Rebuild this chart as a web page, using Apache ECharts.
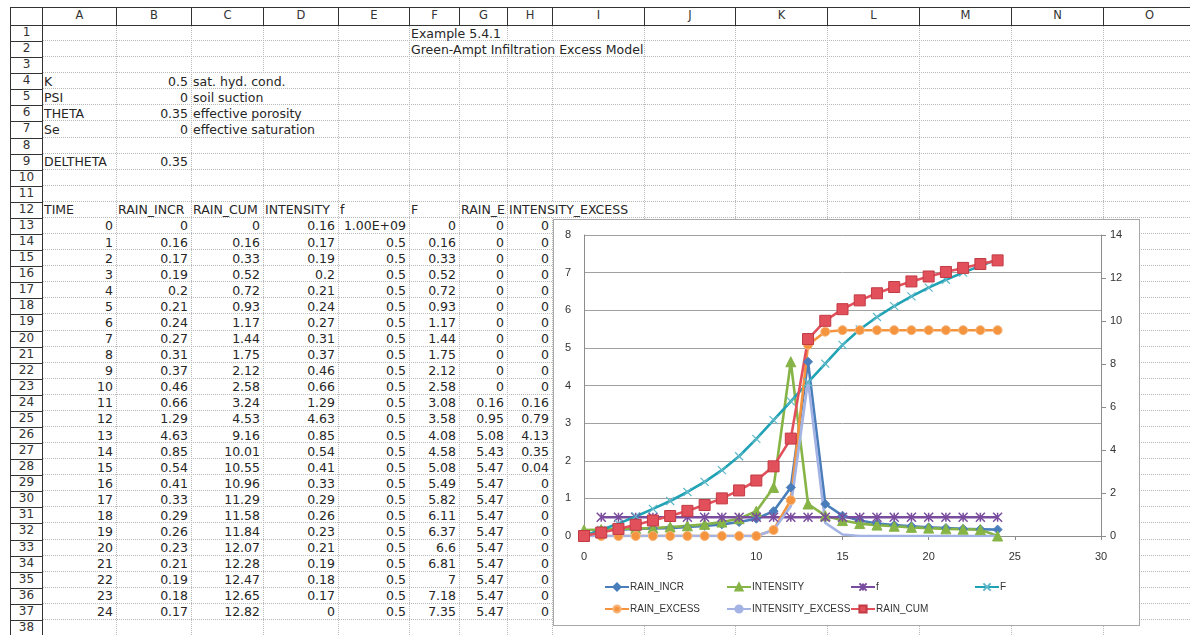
<!DOCTYPE html>
<html><head><meta charset="utf-8">
<script src="https://cdn.jsdelivr.net/npm/echarts@6/dist/echarts.min.js"></script>
<style>
html,body{margin:0;padding:0;background:#fff;}
body{width:1190px;height:635px;overflow:hidden;position:relative;font-family:"DejaVu Sans",sans-serif;font-size:12.5px;color:#262626;}
.vl{position:absolute;width:0;border-left:1px dotted #b8b8b8;}
.hl{position:absolute;height:0;border-top:1px dotted #b8b8b8;}
.t{position:absolute;white-space:nowrap;box-sizing:border-box;}
.hdr{position:absolute;box-sizing:border-box;border:1.5px solid #333;text-align:center;color:#333;background:#fff;}
#chart{position:absolute;left:553px;top:219px;width:587px;height:407px;box-sizing:border-box;border:1px solid #a8a8a8;background:#fff;}
</style>
</head><body>
<div id="sheet"></div>
<div id="chart"></div>
<script>
// ---------------- data ----------------
const colLetters = ["A","B","C","D","E","F","G","H","I","J","K","L","M","N","O"];
const titleLines = ["Example 5.4.1","Green-Ampt Infiltration Excess Model"];
const paramNames = ["K","PSI","THETA","Se"];
const paramValues = [0.5, 0, 0.35, 0];
const paramDesc = ["sat. hyd. cond.","soil suction","effective porosity","effective saturation"];
const deltaName = "DELTHETA";
const deltaValue = 0.35;
const tableHeaders = ["TIME","RAIN_INCR","RAIN_CUM","INTENSITY","f","F","RAIN_EXCESS","INTENSITY_EXCESS"];
const time = [0,1,2,3,4,5,6,7,8,9,10,11,12,13,14,15,16,17,18,19,20,21,22,23,24];
const rainIncr = [0,0.16,0.17,0.19,0.2,0.21,0.24,0.27,0.31,0.37,0.46,0.66,1.29,4.63,0.85,0.54,0.41,0.33,0.29,0.26,0.23,0.21,0.19,0.18,0.17];
const rainCum = [0,0.16,0.33,0.52,0.72,0.93,1.17,1.44,1.75,2.12,2.58,3.24,4.53,9.16,10.01,10.55,10.96,11.29,11.58,11.84,12.07,12.28,12.47,12.65,12.82];
const intensity = [0.16,0.17,0.19,0.2,0.21,0.24,0.27,0.31,0.37,0.46,0.66,1.29,4.63,0.85,0.54,0.41,0.33,0.29,0.26,0.23,0.21,0.19,0.18,0.17,0];
const fRate = [1e9,0.5,0.5,0.5,0.5,0.5,0.5,0.5,0.5,0.5,0.5,0.5,0.5,0.5,0.5,0.5,0.5,0.5,0.5,0.5,0.5,0.5,0.5,0.5,0.5];
const Fcum = [0,0.16,0.33,0.52,0.72,0.93,1.17,1.44,1.75,2.12,2.58,3.08,3.58,4.08,4.58,5.08,5.49,5.82,6.11,6.37,6.6,6.81,7,7.18,7.35];
const rainExcess = [0,0,0,0,0,0,0,0,0,0,0,0.16,0.95,5.08,5.43,5.47,5.47,5.47,5.47,5.47,5.47,5.47,5.47,5.47,5.47];
const intensityExcess = [0,0,0,0,0,0,0,0,0,0,0,0.16,0.79,4.13,0.35,0.04,0,0,0,0,0,0,0,0,0];
const xTicks = {min:0, max:30, interval:5};
const yLeftTicks = {min:0, max:8, interval:1};
const yRightTicks = {min:0, max:14, interval:2};

// ---------------- sheet layout ----------------
const colEdges = [10,42,116,191,263,338,409,459,507,552,644,735,827,919,1011,1103,1195];
const headTop = 7, headBottom = 25, rowH = 16.08, nRows = 38;
const sheet = document.getElementById('sheet');
function rowTop(r){ return headBottom + (r-1)*rowH; }
function add(cls, css, txt){
  const d = document.createElement('div'); d.className = cls;
  Object.assign(d.style, css); if (txt !== undefined) d.textContent = txt;
  sheet.appendChild(d); return d;
}
// gridlines
for (let i = 2; i < colEdges.length; i++) {
  add('vl', {left: colEdges[i]+'px', top: headBottom+'px', height: (635-headBottom)+'px'});
}
for (let r = 1; r <= nRows; r++) {
  add('hl', {left: colEdges[1]+'px', top: Math.round(rowTop(r)+rowH)-1+'px', width: (1190-colEdges[1])+'px'});
}
// column headers
add('hdr', {left: colEdges[0]+'px', top: headTop+'px', width: (colEdges[1]-colEdges[0]+1)+'px', height: (headBottom-headTop+1)+'px'});
colLetters.forEach((L, i) => {
  add('hdr', {left: colEdges[i+1]+'px', top: headTop+'px', width: (colEdges[i+2]-colEdges[i+1]+1)+'px',
    height: (headBottom-headTop+1)+'px', lineHeight: (headBottom-headTop-3)+'px', fontSize:'11.5px'}, L);
});
// row headers
for (let r = 1; r <= nRows; r++) {
  const t = Math.round(rowTop(r));
  add('hdr', {left: colEdges[0]+'px', top: t+'px', width: (colEdges[1]-colEdges[0]+1)+'px',
    height: (Math.round(rowTop(r)+rowH)-t+1)+'px', lineHeight: (rowH-3)+'px', fontSize:'12px'}, String(r));
}
function fmt(v){
  if (typeof v === 'string') return v;
  if (Math.abs(v) >= 1e6) { const s = v.toExponential(2).toUpperCase(); return s.replace(/E\+(\d)$/, 'E+0$1'); }
  return String(v);
}
function cellText(col, row, v, align, opts){
  opts = opts || {};
  const l = colEdges[col+1], rgt = colEdges[col+2];
  const t = rowTop(row);
  const css = {top: (t+0.5)+'px', height: (rowH-1.5)+'px', lineHeight: (rowH-1)+'px'};
  if (align === 'right') { css.right = (1190 - rgt + 3)+'px'; }
  else { css.left = (l+2)+'px'; css.background = '#fff'; css.paddingRight='1px'; }
  if (opts.clip) { css.width = (rgt-l-3)+'px'; css.overflow = 'hidden'; }
  add('t', css, fmt(v));
}
// titles
cellText(5, 1, titleLines[0], 'left');
cellText(5, 2, titleLines[1], 'left');
// parameters
paramNames.forEach((n, i) => {
  cellText(0, 4+i, n, 'left');
  cellText(1, 4+i, paramValues[i], 'right');
  cellText(2, 4+i, paramDesc[i], 'left');
});
cellText(0, 9, deltaName, 'left');
cellText(1, 9, deltaValue, 'right');
// table headers
tableHeaders.forEach((h, i) => cellText(i, 12, h, 'left', {clip: i === 6}));
const cols = [time, rainIncr, rainCum, intensity, fRate, Fcum, rainExcess, intensityExcess];
time.forEach((_, k) => {
  cols.forEach((arr, c) => cellText(c, 13+k, arr[k], 'right'));
});

// ---------------- chart ----------------
const chart = echarts.init(document.getElementById('chart'), null, {renderer: 'canvas'});
const pts = arr => time.map((x, i) => [x, arr[i]]);
const leftMax = yLeftTicks.max;
const fShown = fRate.map(v => v > leftMax * 1e3 ? null : v);
const starPath = 'path://M0,0L10,10M10,0L0,10M5,0L5,10';
const crossPath = 'path://M0,0L10,10M10,0L0,10';
const C = {incr:'#4A7EBB', inten:'#86B446', f:'#7A4C9E', F:'#1FA2B4', exc:'#F4943F', iexc:'#A3B4E4', cum:'#E2505B'};
function line(name, data, color, symbol, size, extra){
  return Object.assign({
    name, type:'line', data, yAxisIndex:0, symbol, symbolSize:size, showAllSymbol:true,
    lineStyle:{color, width:2.6}, itemStyle:{color, borderColor:color, borderWidth:1},
    emphasis:{disabled:true}, z:2
  }, extra || {});
}
const series = [
  line('RAIN_INCR', pts(rainIncr), C.incr, 'diamond', 9),
  line('INTENSITY', pts(intensity), C.inten, 'triangle', 10),
  line('f', pts(fShown), C.f, starPath, 9, {itemStyle:{color:'rgba(0,0,0,0)', borderColor:C.f, borderWidth:1.5}, connectNulls:false}),
  line('F', pts(Fcum), C.F, crossPath, 8, {itemStyle:{color:'rgba(0,0,0,0)', borderColor:'#5fb8c8', borderWidth:1.2}}),
  line('RAIN_EXCESS', pts(rainExcess), C.exc, 'circle', 9, {itemStyle:{color:C.exc, borderColor:'#f8b57a', borderWidth:1}}),
  line('INTENSITY_EXCESS', pts(intensityExcess), C.iexc, 'none', 0),
  line('RAIN_CUM', pts(rainCum), C.cum, 'rect', 11, {yAxisIndex:1, itemStyle:{color:C.cum, borderColor:'#c23a44', borderWidth:1}})
];
const legendPos = [
  ['RAIN_INCR', 50, 362], ['INTENSITY', 172, 362], ['f', 296, 362], ['F', 420, 362],
  ['RAIN_EXCESS', 50, 384], ['INTENSITY_EXCESS', 172, 384], ['RAIN_CUM', 296, 384]
];
const legends = legendPos.map(([n, l, t]) => ({
  data:[n], left:l, top:t, itemWidth:24, itemHeight:9, itemGap:0, padding:0,
  textStyle:{fontFamily:'Liberation Sans', fontSize:10, color:'#333', padding:[0,0,0,-4]},
  selectedMode:false
}));
const axisLabel = {fontFamily:'Liberation Sans', fontSize:11, color:'#333'};
chart.setOption({
  animation:false,
  backgroundColor:'#fff',
  grid:{left:30, right:38, top:15, bottom:89, containLabel:false},
  legend: legends,
  xAxis:{type:'value', min:xTicks.min, max:xTicks.max, interval:xTicks.interval,
    axisLine:{show:true, onZero:false, lineStyle:{color:'#8c8c8c', width:1}},
    axisTick:{show:true, length:4, lineStyle:{color:'#8c8c8c'}},
    splitLine:{show:false}, axisLabel:Object.assign({margin:15}, axisLabel)},
  yAxis:[
    {type:'value', min:yLeftTicks.min, max:yLeftTicks.max, interval:yLeftTicks.interval, position:'left',
      axisLine:{show:true, lineStyle:{color:'#8c8c8c'}}, axisTick:{show:false},
      splitLine:{show:true, lineStyle:{color:'#a0a0a0', width:1}},
      axisLabel:Object.assign({margin:13}, axisLabel)},
    {type:'value', min:yRightTicks.min, max:yRightTicks.max, interval:yRightTicks.interval, position:'right',
      axisLine:{show:true, lineStyle:{color:'#8c8c8c'}}, axisTick:{show:true, length:5, lineStyle:{color:'#8c8c8c'}},
      splitLine:{show:false}, axisLabel:Object.assign({margin:9}, axisLabel)}
  ],
  series
});
</script>
</body></html>
